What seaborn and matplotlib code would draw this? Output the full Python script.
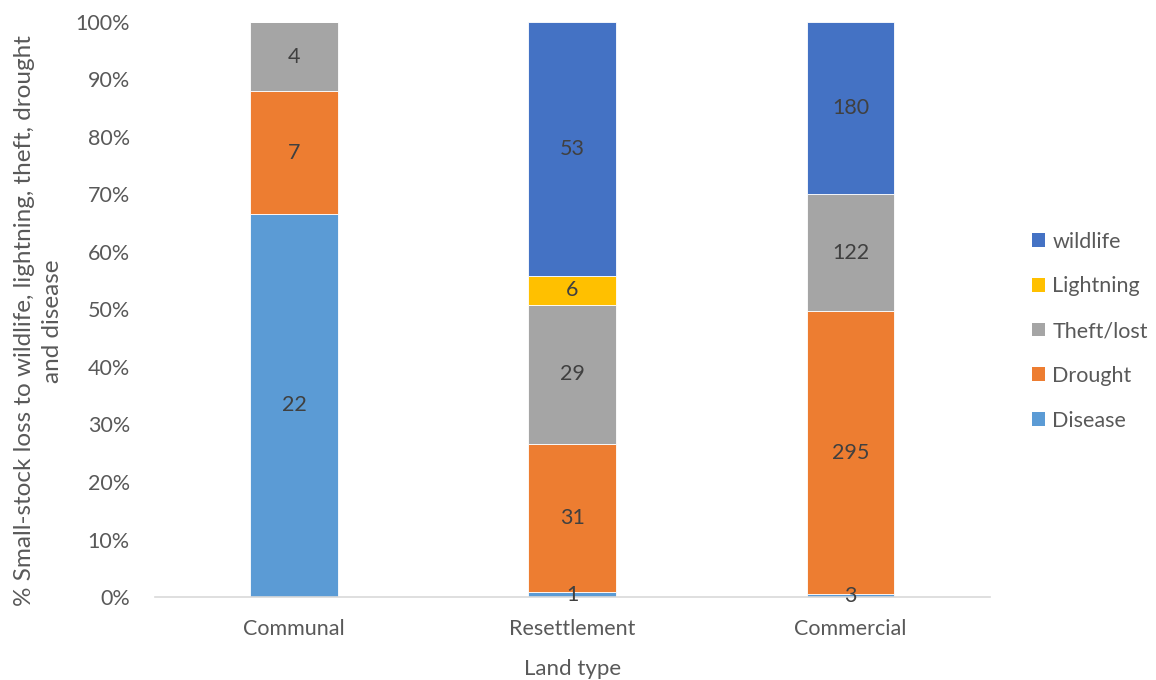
import matplotlib
matplotlib.use("Agg")
import matplotlib.pyplot as plt
import seaborn as sns
import numpy as np
from matplotlib.patches import Patch
from matplotlib.ticker import PercentFormatter

categories = ["Communal", "Resettlement", "Commercial"]
series_names = ["Disease", "Drought", "Theft/lost", "Lightning", "wildlife"]
disease = [22, 1, 3]
drought = [7, 31, 295]
theft = [4, 29, 122]
lightning = [0, 6, 0]
wildlife = [0, 53, 180]
colors = ["#5B9BD5", "#ED7D31", "#A5A5A5", "#FFC000", "#4472C4"]

sns.set_theme(style="white")
plt.rcParams['font.family'] = ['Lato', 'DejaVu Sans']
txt = "#595959"

fig = plt.figure(figsize=(11.56, 6.8), dpi=100)
ax = fig.add_axes([0.134, 0.122, 0.722, 0.846])

values = np.array([disease, drought, theft, lightning, wildlife], dtype=float)
totals = values.sum(axis=0)
pct = values / totals * 100
bottom = np.zeros(len(categories))
for i, name in enumerate(series_names):
    sns.barplot(x=categories, y=pct[i], bottom=bottom, color=colors[i],
                width=0.315, ax=ax, saturation=1, edgecolor="white", linewidth=0.6)
    for j in range(len(categories)):
        if values[i, j] > 0:
            ax.text(j, bottom[j] + pct[i, j] / 2, f"{int(values[i, j])}",
                    ha="center", va="center", fontsize=15.5, color="#404040")
    bottom = bottom + pct[i]

ax.set_ylim(0, 100)
ax.set_xlim(-0.5, 2.5)
ax.yaxis.set_major_locator(plt.MultipleLocator(10))
ax.yaxis.set_major_formatter(PercentFormatter(decimals=0))
for s in ["top", "right", "left"]:
    ax.spines[s].set_visible(False)
ax.spines["bottom"].set_color("#D9D9D9")
ax.spines["bottom"].set_linewidth(1.2)
ax.tick_params(axis="y", length=0, labelsize=15.5, colors=txt, pad=18)
ax.tick_params(axis="x", length=0, labelsize=15.5, colors=txt, pad=16)
ax.set_xlabel("Land type", fontsize=16, color=txt)
ax.xaxis.set_label_coords(0.5, -0.108)
ax.set_ylabel("% Small-stock loss to wildlife, lightning, theft, drought\nand disease",
              fontsize=17.5, color=txt, multialignment="center", linespacing=1.4)
ax.yaxis.set_label_coords(-0.11, 0.48)

handles = [Patch(facecolor=colors[i], edgecolor="none") for i in range(len(series_names))][::-1]
fig.legend(handles, series_names[::-1], loc="center left", bbox_to_anchor=(0.876, 0.513),
           frameon=False, fontsize=15.5, labelcolor=txt, handlelength=0.6, handleheight=0.6,
           handletextpad=0.35, labelspacing=1.15)

fig.savefig("out.png", dpi=100)
